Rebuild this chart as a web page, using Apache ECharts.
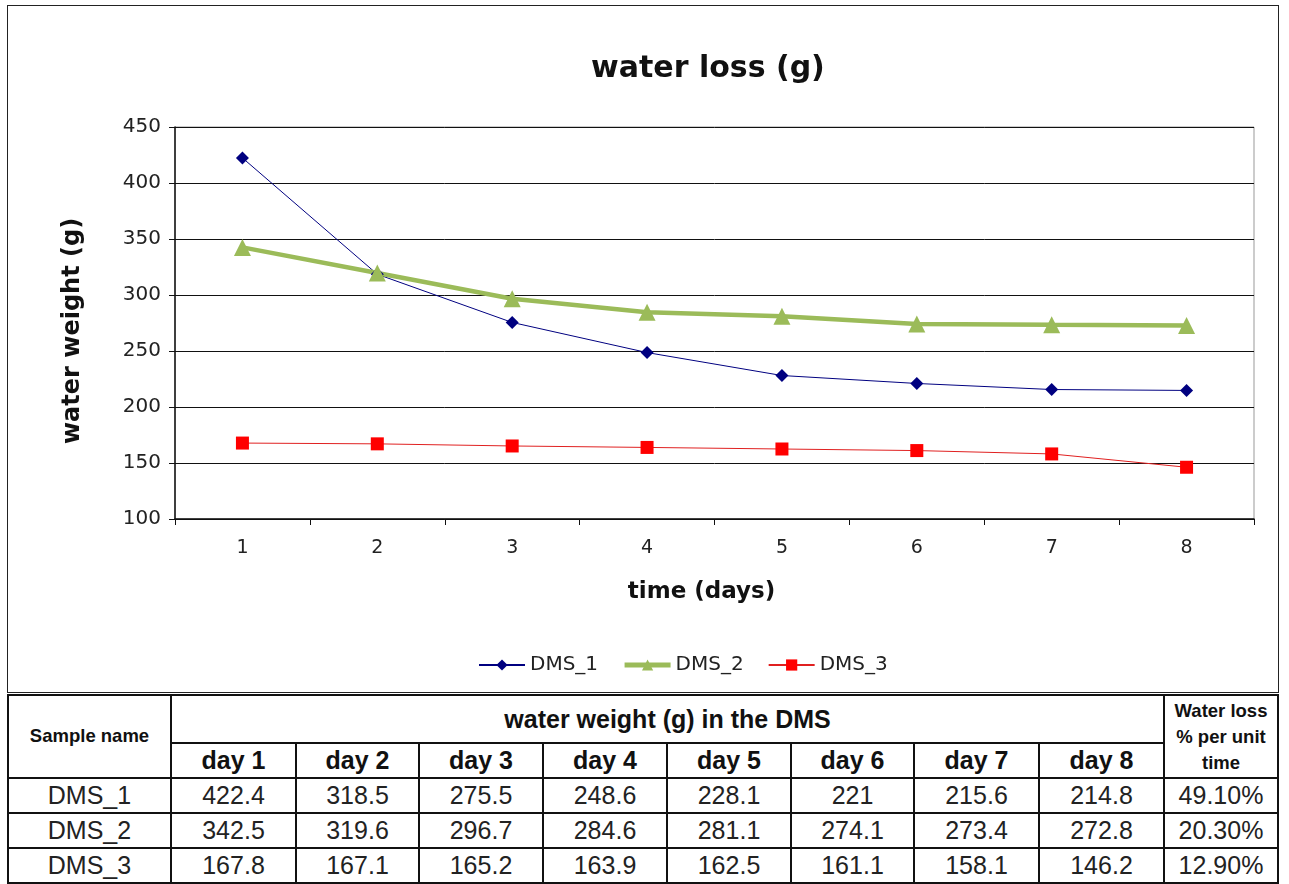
<!DOCTYPE html>
<html><head><meta charset="utf-8">
<script src="https://cdn.jsdelivr.net/npm/echarts@6/dist/echarts.min.js"></script>
<style>
html,body{margin:0;padding:0;background:#fff;width:1289px;height:884px;overflow:hidden;font-family:"Liberation Sans",Arial,sans-serif;}
#frame{position:absolute;left:7px;top:5px;width:1272px;height:688px;border:1.5px solid #222;box-sizing:border-box;}
#chart{position:absolute;left:0;top:0;width:1289px;height:694px;}
#tbl{position:absolute;left:7px;top:694px;border-collapse:collapse;table-layout:fixed;}
#tbl td{border:2px solid #111;text-align:center;padding:0;color:#222;font-size:25px;line-height:1;}
#tbl .hb{font-weight:bold;color:#111;}
</style></head>
<body>
<div id="frame"></div>
<div id="chart"></div>
<table id="tbl"></table>
<script>
const categories = ['1','2','3','4','5','6','7','8'];
const dayLabels = ['day 1','day 2','day 3','day 4','day 5','day 6','day 7','day 8'];
const dms1 = [422.4, 318.5, 275.5, 248.6, 228.1, 221, 215.6, 214.8];
const dms2 = [342.5, 319.6, 296.7, 284.6, 281.1, 274.1, 273.4, 272.8];
const dms3 = [167.8, 167.1, 165.2, 163.9, 162.5, 161.1, 158.1, 146.2];
const dms1Text = ['422.4','318.5','275.5','248.6','228.1','221','215.6','214.8'];
const dms2Text = ['342.5','319.6','296.7','284.6','281.1','274.1','273.4','272.8'];
const dms3Text = ['167.8','167.1','165.2','163.9','162.5','161.1','158.1','146.2'];
const seriesNames = ['DMS_1','DMS_2','DMS_3'];
const lossPct = ['49.10%','20.30%','12.90%'];

const FF = '"DejaVu Sans", "Liberation Sans", Arial, sans-serif';
const chart = echarts.init(document.getElementById('chart'), null, {renderer:'canvas'});
chart.setOption({
  animation:false,
  backgroundColor:'transparent',
  textStyle:{fontFamily:FF},
  title:{text:'water loss (g)', left:586, top:49,
    textStyle:{fontSize:30, fontWeight:'bold', color:'#111', fontFamily:FF}},
  legend:{top:650, left:473, itemWidth:46, itemHeight:14, itemGap:24,
    textStyle:{fontSize:20, color:'#222', fontFamily:FF},
    data:[
      {name:seriesNames[0]},
      {name:seriesNames[1], lineStyle:{width:5}},
      {name:seriesNames[2]}
    ]},
  grid:{left:175, top:127, width:1079, height:392, show:true, borderColor:'#999', borderWidth:1, backgroundColor:'transparent'},
  xAxis:{type:'category', data:categories, boundaryGap:true,
    name:'time (days)', nameLocation:'middle', nameGap:62,
    nameTextStyle:{fontSize:23, fontWeight:'bold', color:'#111', fontFamily:FF, padding:[0,26,0,0]},
    axisLine:{lineStyle:{color:'#111', width:1.5}},
    axisTick:{show:true, inside:false, length:6, alignWithLabel:false, lineStyle:{color:'#111'}},
    axisLabel:{fontSize:19, color:'#222', margin:20, fontFamily:FF}},
  yAxis:{type:'value', min:100, max:450, interval:50,
    name:'water weight (g)', nameLocation:'middle', nameGap:90,
    nameTextStyle:{fontSize:24, fontWeight:'bold', color:'#111', fontFamily:FF, padding:[0,16,0,0]},
    axisLine:{show:true, lineStyle:{color:'#111', width:1.5}},
    axisTick:{show:true, length:6, lineStyle:{color:'#111'}},
    axisLabel:{fontSize:20, color:'#222', margin:14, fontFamily:FF},
    splitLine:{show:true, lineStyle:{color:'#111', width:1}}},
  series:[
    {name:'DMS_1', type:'line', data:dms1, symbol:'diamond', symbolSize:13,
      itemStyle:{color:'#000080'}, lineStyle:{color:'#000080', width:1}},
    {name:'DMS_2', type:'line', data:dms2, symbol:'triangle', symbolSize:17,
      itemStyle:{color:'#9BBB59'}, lineStyle:{color:'#9BBB59', width:4.5}},
    {name:'DMS_3', type:'line', data:dms3, symbol:'rect', symbolSize:13,
      itemStyle:{color:'#FF0000'}, lineStyle:{color:'#E02020', width:1}}
  ]
});

// table
const colW = [163, 125,123,124,124,124,123,125,125, 114];
const tbl = document.getElementById('tbl');
let html = '<colgroup>' + colW.map(w=>'<col style="width:'+w+'px">').join('') + '</colgroup>';
html += '<tr style="height:48px"><td rowspan="2" class="hb" style="font-size:18.5px">Sample name</td>'
     + '<td colspan="8" class="hb" style="font-size:25px">water weight (g) in the DMS</td>'
     + '<td rowspan="2" class="hb" style="font-size:18.5px;line-height:26px">Water loss<br>% per unit<br>time</td></tr>';
html += '<tr style="height:35px">' + dayLabels.map(d=>'<td class="hb" style="font-size:25px">'+d+'</td>').join('') + '</tr>';
const rows = [dms1Text, dms2Text, dms3Text];
rows.forEach((r,i)=>{
  html += '<tr style="height:35px"><td>'+seriesNames[i]+'</td>' + r.map(v=>'<td>'+v+'</td>').join('') + '<td>'+lossPct[i]+'</td></tr>';
});
tbl.innerHTML = html;
</script>
</body></html>
